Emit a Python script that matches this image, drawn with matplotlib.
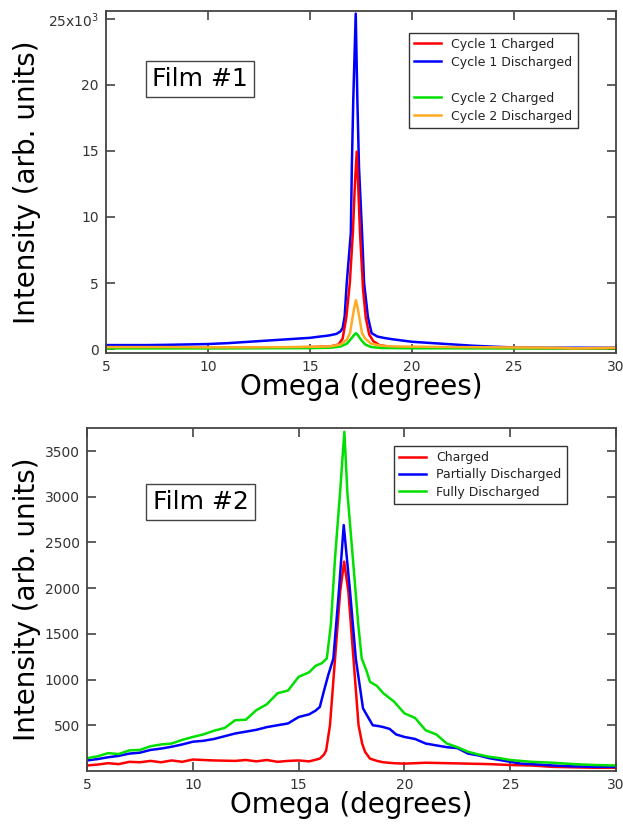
import matplotlib
matplotlib.use("Agg")
import matplotlib.pyplot as plt

# ---- Film #1 (intensity in units of 10^3) ----
c1_chg_x = [5, 8, 10, 12, 14, 15, 16, 16.4, 16.6, 16.78, 16.95, 17.1, 17.2, 17.29, 17.37, 17.45,
            17.6, 17.73, 17.9, 18.1, 18.4, 19, 20, 22, 25, 28, 30]
c1_chg_y = [0.1, 0.1, 0.1, 0.12, 0.13, 0.15, 0.2, 0.35, 0.8, 2.4, 5.0, 8.8, 12.5, 14.95, 12.0, 8.8,
            4.5, 2.4, 1.1, 0.6, 0.3, 0.15, 0.12, 0.1, 0.08, 0.05, 0.05]

c1_dis_x = [5, 6, 7, 8, 9, 10, 11, 12, 13, 14, 15, 15.5, 15.8, 16.0, 16.3, 16.5, 16.6, 16.7, 16.8,
            17.0, 17.05, 17.12, 17.24, 17.32, 17.4, 17.55, 17.65, 17.84, 18.02, 18.3, 18.6, 19,
            19.5, 20, 21, 22, 23, 24, 25, 26, 27, 28, 29, 30]
c1_dis_y = [0.3, 0.3, 0.3, 0.32, 0.35, 0.38, 0.45, 0.55, 0.65, 0.75, 0.85, 0.95, 1.0, 1.05, 1.15,
            1.35, 1.6, 2.5, 5.0, 8.8, 13.8, 18.9, 25.4, 18.9, 13.8, 8.8, 5.0, 2.4, 1.2, 0.95, 0.85,
            0.75, 0.65, 0.55, 0.45, 0.35, 0.25, 0.18, 0.12, 0.1, 0.1, 0.1, 0.1, 0.1]

c2_chg_x = [5, 10, 15, 16, 16.5, 16.8, 17.0, 17.15, 17.25, 17.35, 17.5, 17.7, 18.0, 18.5, 20, 25, 30]
c2_chg_y = [0.05, 0.05, 0.07, 0.1, 0.2, 0.4, 0.75, 1.05, 1.2, 1.05, 0.7, 0.35, 0.15, 0.08, 0.06,
            0.05, 0.05]

c2_dis_x = [5, 8, 10, 12, 14, 15, 16, 16.5, 16.8, 16.96, 17.15, 17.25, 17.35, 17.55, 17.7, 18.0,
            18.5, 19, 20, 22, 25, 27, 28, 29, 30]
c2_dis_y = [0.15, 0.15, 0.13, 0.13, 0.15, 0.17, 0.2, 0.35, 0.7, 1.2, 3.0, 3.7, 3.0, 1.2, 0.8, 0.4,
            0.25, 0.2, 0.18, 0.15, 0.12, 0.1, 0.05, 0.08, 0.1]

# ---- Film #2 ----
chg_x = [5, 5.5, 6, 6.5, 7, 7.5, 8, 8.5, 9, 9.5, 10, 11, 12, 12.5, 13, 13.5, 14, 14.5, 15, 15.5,
         16.0, 16.2, 16.3, 16.48, 16.72, 16.96, 17.15, 17.35, 17.59, 17.83, 18.0, 18.14, 18.37,
         18.7, 19, 19.5, 20, 21, 22, 23, 24, 25, 26, 27, 28, 29, 30]
chg_y = [60, 70, 85, 75, 100, 95, 110, 95, 115, 100, 125, 115, 110, 120, 105, 120, 100, 110, 115,
         105, 135, 180, 225, 500, 1230, 1960, 2290, 1960, 1230, 500, 300, 208, 135, 110, 95, 85,
         80, 90, 85, 80, 75, 65, 60, 45, 40, 35, 35]

part_x = [5, 5.5, 6, 6.5, 7, 7.5, 8, 8.5, 9, 9.5, 10, 10.5, 11, 11.5, 12, 12.5, 13, 13.5, 14, 14.5,
          15, 15.5, 15.8, 16.0, 16.2, 16.4, 16.64, 16.9, 17.13, 17.43, 17.7, 18.04, 18.2, 18.5,
          18.8, 19, 19.3, 19.6, 20, 20.5, 21, 21.5, 22, 22.5, 23, 23.5, 24, 24.5, 25, 25.5, 26,
          27, 28, 29, 30]
part_y = [115, 130, 150, 165, 190, 200, 230, 245, 265, 290, 320, 330, 350, 380, 410, 430, 450, 480,
          500, 520, 590, 620, 660, 700, 880, 1050, 1230, 1960, 2690, 1960, 1230, 686, 620, 500,
          490, 480, 460, 400, 372, 350, 300, 280, 260, 250, 190, 170, 140, 120, 100, 80, 75, 60,
          50, 45, 45]

full_x = [5, 5.5, 6, 6.5, 7, 7.5, 8, 8.5, 9, 9.5, 10, 10.5, 11, 11.5, 12, 12.5, 13, 13.5, 14, 14.5,
          15, 15.5, 15.8, 16.1, 16.33, 16.52, 16.72, 16.96, 17.16, 17.3, 17.56, 17.82, 17.98, 18.2,
          18.37, 18.7, 19, 19.5, 20, 20.5, 21, 21.5, 22, 22.5, 23, 23.5, 24, 24.5, 25, 26, 27, 28,
          29, 30]
full_y = [140, 160, 195, 185, 225, 230, 270, 290, 300, 340, 372, 400, 440, 470, 555, 560, 665, 730,
          850, 880, 1030, 1080, 1150, 1180, 1230, 1595, 2330, 3055, 3711, 3055, 2330, 1595, 1230,
          1100, 975, 930, 850, 760, 630, 580, 445, 400, 300, 260, 210, 180, 155, 140, 120, 100, 90,
          75, 65, 60]

spine_col = "#444444"
tick_col = "#333333"

fig = plt.figure(figsize=(6.23, 8.25), dpi=100)
ax1 = fig.add_axes([0.170, 0.5721, 0.819, 0.4146])
ax2 = fig.add_axes([0.1396, 0.0655, 0.8494, 0.4157])

lw = 1.8
ax1.plot(c1_dis_x, c1_dis_y, color="#0000ff", lw=lw, label="Cycle 1 Discharged")
ax1.plot(c1_chg_x, c1_chg_y, color="#ff0000", lw=lw, label="Cycle 1 Charged")
ax1.plot(c2_chg_x, c2_chg_y, color="#00e000", lw=lw, label="Cycle 2 Charged")
ax1.plot(c2_dis_x, c2_dis_y, color="#ffaa22", lw=lw, label="Cycle 2 Discharged")
ax1.set_xlim(5, 30)
ax1.set_ylim(-0.3, 25.6)
ax1.set_yticks([0, 5, 10, 15, 20, 25])
ax1.set_yticklabels(["0", "5", "10", "15", "20", r"25x10$^3$"])

ax2.plot(chg_x, chg_y, color="#ff0000", lw=lw, label="Charged")
ax2.plot(part_x, part_y, color="#0000ff", lw=lw, label="Partially Discharged")
ax2.plot(full_x, full_y, color="#00e000", lw=lw, label="Fully Discharged")
ax2.set_xlim(5, 30)
ax2.set_ylim(0, 3752)
ax2.set_yticks([500, 1000, 1500, 2000, 2500, 3000, 3500])

for ax in (ax1, ax2):
    ax.set_xticks([5, 10, 15, 20, 25, 30])
    ax.tick_params(direction="in", length=6.5, width=1.2, color=spine_col, labelcolor=tick_col,
                   labelsize=10, top=True, right=True)
    ax.tick_params(axis="x", pad=5)
    ax.tick_params(axis="y", pad=5)
    for s in ax.spines.values():
        s.set_color(spine_col)
        s.set_linewidth(1.3)
    ax.set_xlabel("Omega (degrees)", fontsize=20)
    ax.set_ylabel("Intensity (arb. units)", fontsize=20)
    ax.xaxis.label.set_va("center")
    ax.yaxis.label.set_va("center")

ax1.xaxis.set_label_coords(0.5, -0.099)
ax1.yaxis.set_label_coords(-0.155, 0.5)
ax2.xaxis.set_label_coords(0.5, -0.099)
ax2.yaxis.set_label_coords(-0.113, 0.5)

# legend for film 1, with a blank row between cycles
h, l = ax1.get_legend_handles_labels()
blank, = ax1.plot([], [], color="none", label=" ")
handles = [h[1], h[0], blank, h[2], h[3]]
labels = [l[1], l[0], " ", l[2], l[3]]
leg1 = ax1.legend(handles, labels, loc="upper left", bbox_to_anchor=(0.594, 0.936),
                  borderaxespad=0, fontsize=9, fancybox=False, handlelength=2.2,
                  labelspacing=0.4, framealpha=1)
leg1.get_frame().set_edgecolor("#333333")
leg1.get_frame().set_linewidth(1.0)
for t in leg1.get_texts():
    t.set_color("#222222")

leg2 = ax2.legend(loc="upper left", bbox_to_anchor=(0.580, 0.9475), borderaxespad=0,
                  fontsize=9, fancybox=False, handlelength=2.2, labelspacing=0.35, framealpha=1)
leg2.get_frame().set_edgecolor("#333333")
leg2.get_frame().set_linewidth(1.0)
for t in leg2.get_texts():
    t.set_color("#222222")

box = dict(boxstyle="square,pad=0.25", facecolor="white", edgecolor="#444444", linewidth=1.0)
ax1.text(0.185, 0.801, "Film #1", transform=ax1.transAxes, ha="center", va="center",
         fontsize=18, bbox=box)
ax2.text(0.2146, 0.784, "Film #2", transform=ax2.transAxes, ha="center", va="center",
         fontsize=18, bbox=box)

fig.savefig("out.png", dpi=100)
